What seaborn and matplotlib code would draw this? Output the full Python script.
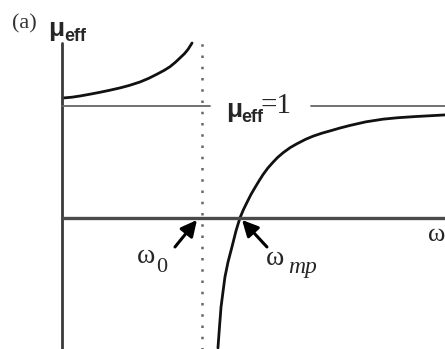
import matplotlib
matplotlib.use("Agg")
import matplotlib.pyplot as plt
import seaborn as sns
import pandas as pd

# omega in units of omega_0, mu_eff
w_low  = [0.007, 0.070, 0.129, 0.200, 0.271, 0.340, 0.414, 0.480, 0.557,
          0.620, 0.679, 0.730, 0.771, 0.810, 0.843, 0.875, 0.900, 0.929]
mu_low = [1.071, 1.078, 1.089, 1.105, 1.122, 1.140, 1.161, 1.183, 1.214,
          1.247, 1.284, 1.318, 1.350, 1.390, 1.429, 1.467, 1.505, 1.562]

w_high  = [1.114, 1.125, 1.136, 1.150, 1.164, 1.186, 1.214, 1.243, 1.271,
           1.296, 1.321, 1.350, 1.379, 1.407, 1.436, 1.470, 1.507, 1.540,
           1.579, 1.630, 1.679, 1.740, 1.793, 1.857, 1.914, 1.986, 2.057,
           2.170, 2.293, 2.400, 2.520, 2.736]
mu_high = [-1.161, -0.973, -0.795, -0.660, -0.527, -0.393, -0.259, -0.115, 0.0,
           0.074, 0.138, 0.210, 0.272, 0.330, 0.387, 0.445, 0.497, 0.540,
           0.582, 0.628, 0.663, 0.702, 0.730, 0.757, 0.777, 0.803, 0.826,
           0.858, 0.882, 0.895, 0.905, 0.920]

W0 = 1.0          # resonance (dotted line)

sns.set_theme(style="white")
plt.rcParams["font.family"] = ["Liberation Serif", "DejaVu Serif"]

fig = plt.figure(figsize=(4.45, 3.49), dpi=100)
ax = fig.add_axes([0, 0, 1, 1])
ax.set_xlim(-0.443, 2.736)
ax.set_ylim(-1.17, 1.946)
ax.axis("off")

low = pd.DataFrame({"w": w_low, "mu": mu_low})
high = pd.DataFrame({"w": w_high, "mu": mu_high})
for d in (low, high):
    sns.lineplot(data=d, x="w", y="mu", sort=False, estimator=None,
                 color="#111111", lw=2.0, ax=ax)

# axes drawn by hand, like the sketch
ax.plot([0, 0], [-1.2, 1.562], color="#3a3a3a", lw=2.0)
ax.plot([0, 2.8], [0, 0], color="#4a4a4a", lw=2.4)
ax.plot([0, 1.057], [1, 1], color="#666666", lw=1.3)
ax.plot([1.779, 2.8], [1, 1], color="#666666", lw=1.3)
ax.plot([W0, W0], [-1.2, 1.59], color="#666666", lw=1.8, linestyle=(0, (1, 3.5)))

sans_b = dict(family=["Liberation Sans", "DejaVu Sans"], weight="bold", va="baseline", ha="left")
serif = dict(family=["Liberation Serif", "DejaVu Serif"], va="baseline", ha="left")

ax.text(-0.357, 1.696, "(a)", fontsize=16, color="#333333", **serif)
ax.text(-0.10, 1.625, "μ", fontsize=19, **sans_b)
ax.text(0.014, 1.580, "eff", fontsize=13, **sans_b)

ax.text(1.171, 0.902, "μ", fontsize=19, **sans_b)
ax.text(1.279, 0.857, "eff", fontsize=13, **sans_b)
ax.text(1.421, 0.9375, "=1", fontsize=21, **serif)

ax.text(0.536, -0.402, "ω", fontsize=20, **serif)
ax.text(0.670, -0.482, "0", fontsize=16, **serif)
ax.text(1.457, -0.420, "ω", fontsize=20, **serif)
ax.text(1.614, -0.491, "mp", fontsize=17, style="italic", **serif)
ax.text(2.614, -0.205, "ω", fontsize=19, **serif)

arrow = dict(arrowstyle="-|>", lw=2.2, mutation_scale=24, color="black",
             shrinkA=0, shrinkB=0)
ax.annotate("", xy=(0.964, -0.018), xytext=(0.807, -0.259), arrowprops=arrow)
ax.annotate("", xy=(1.286, -0.018), xytext=(1.464, -0.259), arrowprops=arrow)

plt.savefig("out.png", dpi=100)
